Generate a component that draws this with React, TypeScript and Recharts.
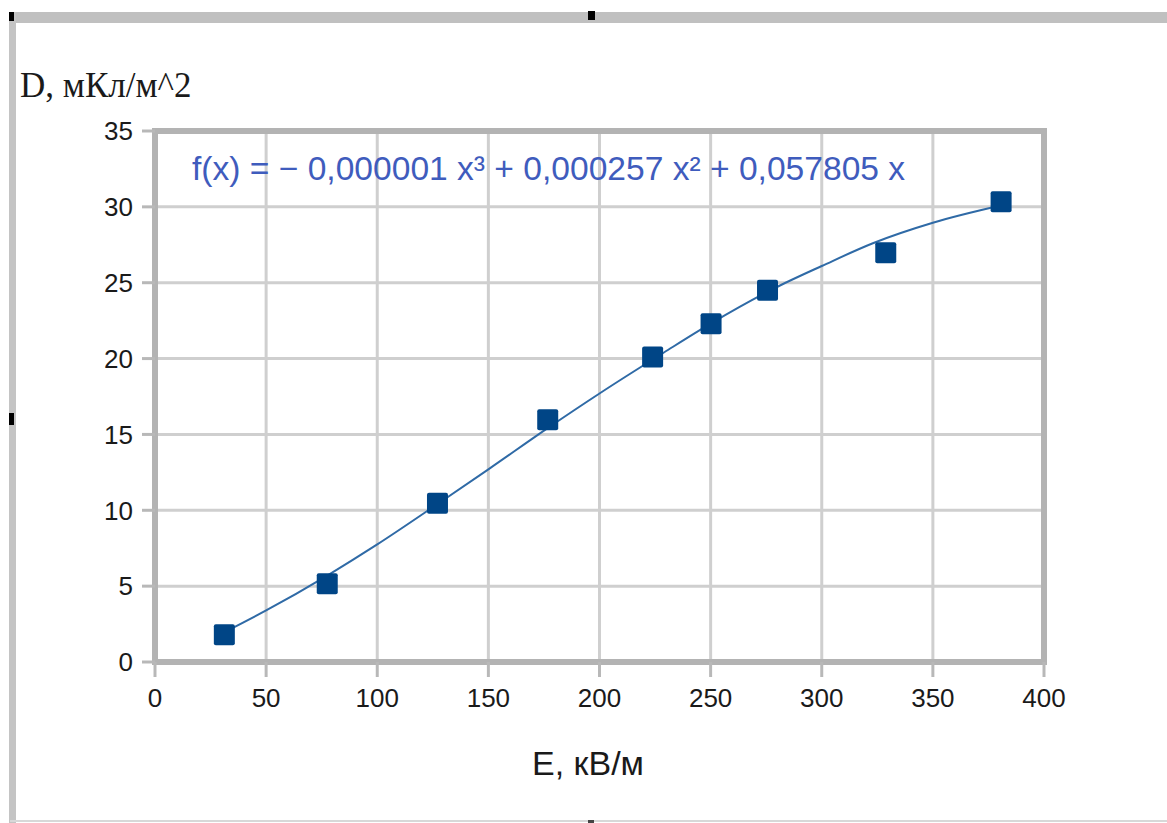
import React from 'react';
import { ComposedChart, Scatter, Line, XAxis, YAxis, CartesianGrid, ReferenceArea } from 'recharts';

// Measured points: E (кВ/м) vs D (мКл/м^2)
const eValues = [31.2, 77.5, 127.1, 176.7, 223.9, 250.2, 275.6, 328.8, 380.7];
const dValues = [1.8, 5.16, 10.46, 15.96, 20.1, 22.3, 24.5, 26.98, 30.34];

// Trend line
const trendE = [31, 50, 77.5, 100, 127, 150, 177, 200, 229, 250, 281, 300, 323, 350, 381];
const trendD = [1.95, 3.4, 5.7, 7.75, 10.4, 12.7, 15.45, 17.7, 20.4, 22.3, 24.8, 26.1, 27.6, 28.95, 30.1];

const xTicks = [0, 50, 100, 150, 200, 250, 300, 350, 400];
const yTicks = [0, 5, 10, 15, 20, 25, 30, 35];

const yTitle = 'D, мКл/м^2';
const xTitle = 'E, кВ/м';
const equation = 'f(x) = − 0,000001 x³ + 0,000257 x² + 0,057805 x';

const points = eValues.map((x, i) => ({ x, y: dValues[i] }));
const trend = trendE.map((x, i) => ({ x, y: trendD[i] }));

const W = 1167;
const H = 823;

const SquareMarker = (props: any) => {
  const { cx, cy } = props;
  if (cx == null || cy == null) return null;
  const s = 21;
  return <rect x={cx - s / 2} y={cy - s / 2} width={s} height={s} rx={2} fill="#004586" />;
};

const tickStyle = { fontFamily: '"Liberation Sans", Arial, sans-serif', fontSize: 26, fill: '#1a1a1a' };

export default function App() {
  return (
    <div style={{ position: 'absolute', left: 0, top: 0, width: W, height: H, background: '#fff', overflow: 'hidden' }}>
      {/* frame decorations */}
      <div style={{ position: 'absolute', left: 10, top: 12, width: W - 10, height: 11, background: '#c0c0c0' }} />
      <div style={{ position: 'absolute', left: 9, top: 12, width: 7, height: H - 12, background: '#c4c4c4' }} />
      <div style={{ position: 'absolute', left: 10, top: 820, width: W - 10, height: 2, background: '#d8d8d8' }} />
      <div style={{ position: 'absolute', left: 9, top: 12, width: 5, height: 9, background: '#000' }} />
      <div style={{ position: 'absolute', left: 588, top: 11, width: 7, height: 9, background: '#000' }} />
      <div style={{ position: 'absolute', left: 9, top: 413, width: 5, height: 12, background: '#000' }} />
      <div style={{ position: 'absolute', left: 588, top: 820, width: 6, height: 3, background: '#444' }} />

      <div style={{ position: 'absolute', left: 0, top: 0 }}>
        <ComposedChart
          width={W}
          height={H}
          margin={{ top: 131, right: 123, bottom: 101, left: 75 }}
        >
          <CartesianGrid stroke="#cfcfcf" strokeWidth={3} horizontal vertical />
          <XAxis
            type="number"
            dataKey="x"
            domain={[0, 400]}
            ticks={xTicks}
            height={60}
            axisLine={false}
            tickLine={{ stroke: '#b8b8b8', strokeWidth: 3 }}
            tickSize={15}
            tickMargin={12}
            tick={tickStyle}
            interval={0}
          />
          <YAxis
            type="number"
            dataKey="y"
            domain={[0, 35]}
            ticks={yTicks}
            width={80}
            axisLine={false}
            tickLine={{ stroke: '#b8b8b8', strokeWidth: 3 }}
            tickSize={13}
            tickMargin={9}
            tick={tickStyle}
            interval={0}
          />
          <ReferenceArea x1={0} x2={400} y1={0} y2={35} fill="none" fillOpacity={0} stroke="#b3b3b3" strokeWidth={6} />
          <Line
            data={trend}
            dataKey="y"
            type="monotone"
            stroke="#2f6aa6"
            strokeWidth={2}
            dot={false}
            activeDot={false}
            isAnimationActive={false}
          />
          <Scatter data={points} dataKey="y" shape={<SquareMarker />} isAnimationActive={false} />
        </ComposedChart>
      </div>

      <svg width={W} height={H} style={{ position: 'absolute', left: 0, top: 0, pointerEvents: 'none' }}>
        <text x={20} y={97} fontFamily='"Liberation Serif", "Times New Roman", serif' fontSize={35} fill="#1a1a1a">
          {yTitle}
        </text>
        <text x={192} y={180} fontFamily='"Liberation Sans", Arial, sans-serif' fontSize={33.6} fill="#3f5cbd">
          {equation}
        </text>
        <text x={588} y={775} textAnchor="middle" fontFamily='"Liberation Sans", Arial, sans-serif' fontSize={34} fill="#1a1a1a">
          {xTitle}
        </text>
      </svg>
    </div>
  );
}
